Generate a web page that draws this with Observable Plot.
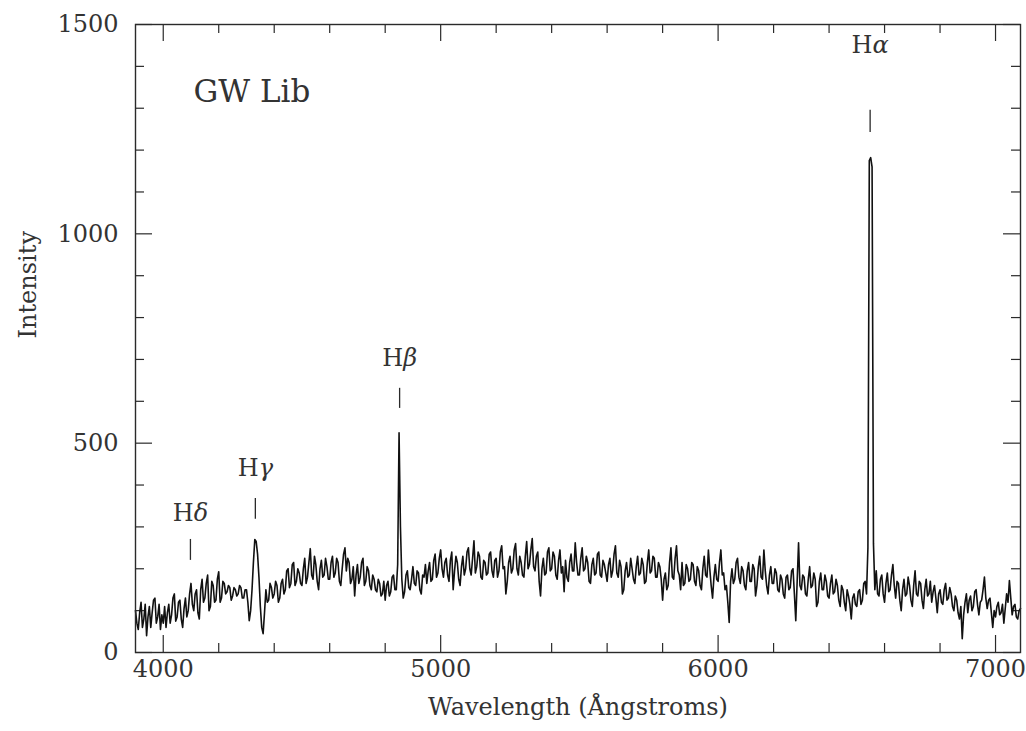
<!DOCTYPE html>
<html>
<head>
<meta charset="utf-8">
<script src="https://cdn.jsdelivr.net/npm/d3@7"></script>
<script src="https://cdn.jsdelivr.net/npm/@observablehq/plot@0.6"></script>
<style>
  html, body { margin: 0; padding: 0; background: #fff; }
  svg { display: block; }
</style>
</head>
<body>
<script>
// Wavelength samples (Å)
const wavelength = [
  3900,3905,3910,3915,3920,3925,3930,3935,3940,3945,3950,3955,3960,3965,3970,3975,3980,3985,3990,3995,
  4000,4005,4010,4015,4020,4025,4030,4035,4040,4045,4050,4055,4060,4065,4070,4075,4080,4085,4090,4095,
  4100,4105,4110,4115,4120,4125,4130,4135,4140,4145,4150,4155,4160,4165,4170,4175,4180,4185,4190,4195,
  4200,4205,4210,4215,4220,4225,4230,4235,4240,4245,4250,4255,4260,4265,4270,4275,4280,4285,4290,4295,
  4300,4305,4310,4315,4320,4325,4330,4335,4340,4345,4350,4355,4360,4365,4370,4375,4380,4385,4390,4395,
  4400,4405,4410,4415,4420,4425,4430,4435,4440,4445,4450,4455,4460,4465,4470,4475,4480,4485,4490,4495,
  4500,4505,4510,4515,4520,4525,4530,4535,4540,4545,4550,4555,4560,4565,4570,4575,4580,4585,4590,4595,
  4600,4605,4610,4615,4620,4625,4630,4635,4640,4645,4650,4655,4660,4665,4670,4675,4680,4685,4690,4695,
  4700,4705,4710,4715,4720,4725,4730,4735,4740,4745,4750,4755,4760,4765,4770,4775,4780,4785,4790,4795,
  4800,4805,4810,4815,4820,4825,4830,4835,4840,4845,4850,4855,4860,4865,4870,4875,4880,4885,4890,4895,
  4900,4905,4910,4915,4920,4925,4930,4935,4940,4945,4950,4955,4960,4965,4970,4975,4980,4985,4990,4995,
  5000,5005,5010,5015,5020,5025,5030,5035,5040,5045,5050,5055,5060,5065,5070,5075,5080,5085,5090,5095,
  5100,5105,5110,5115,5120,5125,5130,5135,5140,5145,5150,5155,5160,5165,5170,5175,5180,5185,5190,5195,
  5200,5205,5210,5215,5220,5225,5230,5235,5240,5245,5250,5255,5260,5265,5270,5275,5280,5285,5290,5295,
  5300,5305,5310,5315,5320,5325,5330,5335,5340,5345,5350,5355,5360,5365,5370,5375,5380,5385,5390,5395,
  5400,5405,5410,5415,5420,5425,5430,5435,5440,5445,5450,5455,5460,5465,5470,5475,5480,5485,5490,5495,
  5500,5505,5510,5515,5520,5525,5530,5535,5540,5545,5550,5555,5560,5565,5570,5575,5580,5585,5590,5595,
  5600,5605,5610,5615,5620,5625,5630,5635,5640,5645,5650,5655,5660,5665,5670,5675,5680,5685,5690,5695,
  5700,5705,5710,5715,5720,5725,5730,5735,5740,5745,5750,5755,5760,5765,5770,5775,5780,5785,5790,5795,
  5800,5805,5810,5815,5820,5825,5830,5835,5840,5845,5850,5855,5860,5865,5870,5875,5880,5885,5890,5895,
  5900,5905,5910,5915,5920,5925,5930,5935,5940,5945,5950,5955,5960,5965,5970,5975,5980,5985,5990,5995,
  6000,6005,6010,6015,6020,6025,6030,6035,6040,6045,6050,6055,6060,6065,6070,6075,6080,6085,6090,6095,
  6100,6105,6110,6115,6120,6125,6130,6135,6140,6145,6150,6155,6160,6165,6170,6175,6180,6185,6190,6195,
  6200,6205,6210,6215,6220,6225,6230,6235,6240,6245,6250,6255,6260,6265,6270,6275,6280,6285,6290,6295,
  6300,6305,6310,6315,6320,6325,6330,6335,6340,6345,6350,6355,6360,6365,6370,6375,6380,6385,6390,6395,
  6400,6405,6410,6415,6420,6425,6430,6435,6440,6445,6450,6455,6460,6465,6470,6475,6480,6485,6490,6495,
  6500,6505,6510,6515,6520,6525,6530,6535,6540,6545,6550,6555,6560,6565,6570,6575,6580,6585,6590,6595,
  6600,6605,6610,6615,6620,6625,6630,6635,6640,6645,6650,6655,6660,6665,6670,6675,6680,6685,6690,6695,
  6700,6705,6710,6715,6720,6725,6730,6735,6740,6745,6750,6755,6760,6765,6770,6775,6780,6785,6790,6795,
  6800,6805,6810,6815,6820,6825,6830,6835,6840,6845,6850,6855,6860,6865,6870,6875,6880,6885,6890,6895,
  6900,6905,6910,6915,6920,6925,6930,6935,6940,6945,6950,6955,6960,6965,6970,6975,6980,6985,6990,6995,
  7000,7005,7010,7015,7020,7025,7030,7035,7040,7045,7050,7055,7060,7065,7070,7075,7080,7085,7090
];

// Intensity
const intensity = [
  100, 70, 55, 95,120, 60, 80,115, 40, 85,110, 60, 95,125,130, 70, 85,115, 55, 90,
   70,110, 60, 95,115, 70, 90,130,140, 75, 85,120,125, 80, 60,105,130, 85,100,140,
  165,115,100,140,150, 95, 80,150,175,120,130,165,185,100,110,170,160,120,125,175,
  193,120,130,170,165,140,145,160,155,125,135,155,150,135,140,160,155,130,130,150,
  150,120, 76,100,150,215,270,265,235,180,110, 60, 45, 95,150,120,125,165,155,130,
  140,170,160,120,130,165,175,140,150,195,200,155,165,210,215,160,170,200,190,165,
  160,200,225,165,180,215,248,185,175,230,210,170,150,200,220,180,185,225,205,175,
  175,215,230,180,190,225,215,170,160,200,235,250,195,225,215,165,175,205,135,185,
  210,165,180,215,225,160,170,205,195,160,150,185,175,150,145,175,165,135,140,170,
  125,160,170,135,145,180,185,150,150,210,525,300,175,130,145,185,195,155,150,175,
  205,165,160,195,190,150,140,185,180,210,165,195,215,170,175,220,235,180,190,225,
  245,200,180,215,225,185,170,220,240,150,195,230,215,175,160,205,230,185,200,240,
  250,200,185,225,267,190,205,240,230,180,175,220,215,185,190,235,240,195,180,220,
  225,180,195,240,255,200,205,140,170,215,230,190,200,245,260,200,185,230,215,185,
  180,230,265,200,210,245,272,205,195,230,240,170,135,200,225,185,190,240,250,195,
  200,240,230,185,175,220,245,190,205,145,220,180,170,215,235,195,195,262,215,185,
  185,225,250,195,200,230,215,170,165,210,225,185,190,235,240,185,180,220,210,190,
  170,210,225,180,195,235,255,190,180,220,205,140,150,195,215,180,185,225,200,175,
  165,205,230,185,190,225,210,165,170,215,245,190,195,230,225,180,180,215,205,175,
  125,175,190,150,160,215,250,180,175,225,255,195,185,150,215,160,165,210,200,170,
  175,215,210,170,160,205,195,160,150,200,230,185,180,245,200,160,130,180,210,175,
  170,215,245,185,190,150,160,120, 72,170,200,165,175,215,225,180,165,205,195,160,
  150,195,215,170,170,210,200,135,160,205,230,180,175,245,195,160,140,185,205,165,
  165,200,190,150,145,185,175,140,130,180,185,150,155,195,200,140, 76,170,262,160,
  150,185,180,140,135,175,205,155,160,190,175,110,120,170,190,150,150,185,170,135,
  130,165,185,140,145,175,160,125,110,160,150,120,100,150,135,115, 80,130,140,115,
  110,145,150,115,125,165,170,140,250,1175,1182,1160,260,150,195,140,135,175,185,140,
  120,165,190,145,150,185,210,160,130,170,165,125,100,150,175,135,140,180,160,125,
  110,160,195,140,135,170,165,125,105,150,175,135,140,170,120,145,160,130, 95,140,
  150,120,115,150,165,125,130,155,140,110,100,135,125, 95, 80,110, 33, 90,120,140,
   95,125,135,100,110,145,150,115, 90,120,125,150,180,130,105,125,130, 95, 60,100,
   85,110,120, 90, 95,115, 70,105,140,120,172,130, 90,110,115, 85, 80,100,105
];

// Axis ticks
const xMajor = [4000, 5000, 6000, 7000];
const xMinor = [4200, 4400, 4600, 4800, 5200, 5400, 5600, 5800, 6200, 6400, 6600, 6800];
const yMajor = [0, 500, 1000, 1500];
const yMinor = [100, 200, 300, 400, 600, 700, 800, 900, 1100, 1200, 1300, 1400];

// Line identifications
const lineNames = ["Hα", "Hβ", "Hγ", "Hδ"];
const lineWavelength = [6548, 4852, 4332, 4098];
const markBottom = [1242, 583, 318, 220];
const markTop = [1295, 631, 368, 270];
const labelLevel = [1450, 702, 440, 332];

const spectrum = wavelength.map((w, i) => ({w, v: intensity[i]}));
const lines = lineNames.map((name, i) => ({
  name, w: lineWavelength[i], y1: markBottom[i], y2: markTop[i], ly: labelLevel[i]
}));

const W = 1026, H = 731;
const mL = 135, mR = 6, mT = 24, mB = 79;
const pw = W - mL - mR, ph = H - mT - mB;
const majorLen = 17, minorLen = 9;
const ink = "#2a2a2a";

const chart = Plot.plot({
  width: W, height: H,
  marginLeft: mL, marginRight: mR, marginTop: mT, marginBottom: mB,
  style: {fontFamily: "'DejaVu Serif', serif", fontSize: "24px", color: "#333", background: "#fff"},
  x: {domain: [3900, 7090], label: null},
  y: {domain: [0, 1500], label: null},
  marks: [
    Plot.axisX(xMajor, {tickSize: 0, tickPadding: 7, tickFormat: d => String(d), fontSize: 24, label: null, fill: "#333"}),
    Plot.axisY(yMajor, {tickSize: 0, tickPadding: 17, tickFormat: d => String(d), fontSize: 24, label: null, fill: "#333"}),
    // inward ticks on all four sides
    Plot.tickX(xMajor, {insetTop: ph - majorLen, stroke: ink, strokeWidth: 1.2}),
    Plot.tickX(xMajor, {insetBottom: ph - majorLen, stroke: ink, strokeWidth: 1.2}),
    Plot.tickX(xMinor, {insetTop: ph - minorLen, stroke: ink, strokeWidth: 1.2}),
    Plot.tickX(xMinor, {insetBottom: ph - minorLen, stroke: ink, strokeWidth: 1.2}),
    Plot.tickY(yMajor, {insetRight: pw - majorLen, stroke: ink, strokeWidth: 1.2}),
    Plot.tickY(yMajor, {insetLeft: pw - majorLen, stroke: ink, strokeWidth: 1.2}),
    Plot.tickY(yMinor, {insetRight: pw - minorLen, stroke: ink, strokeWidth: 1.2}),
    Plot.tickY(yMinor, {insetLeft: pw - minorLen, stroke: ink, strokeWidth: 1.2}),
    Plot.line(spectrum, {x: "w", y: "v", stroke: "#111", strokeWidth: 1.6}),
    Plot.ruleX(lines, {x: "w", y1: "y1", y2: "y2", stroke: ink, strokeWidth: 1.3}),
    Plot.text(lines, {x: "w", y: "ly", text: "name", fontSize: 24, fill: "#333"}),
    Plot.text(["GW Lib"], {frameAnchor: "top-left", dx: 58, dy: 55, textAnchor: "start", fontSize: 31, fill: "#333"}),
    Plot.text(["Wavelength (Ångstroms)"], {frameAnchor: "bottom", dy: 62, fontSize: 24, fill: "#333"}),
    Plot.text(["Intensity"], {frameAnchor: "left", dx: -107, rotate: -90, fontSize: 24, fill: "#333"}),
    Plot.frame({stroke: ink, strokeWidth: 1.4})
  ]
});

// italicise the Greek letters of the line labels
d3.select(chart).selectAll("text").each(function () {
  const t = this.textContent;
  const m = /^H([αβγδ])$/.exec(t);
  if (m) {
    this.textContent = "H";
    const ts = document.createElementNS("http://www.w3.org/2000/svg", "tspan");
    ts.setAttribute("font-style", "italic");
    ts.textContent = m[1];
    this.appendChild(ts);
  }
});

document.body.appendChild(chart);
</script>
</body>
</html>
